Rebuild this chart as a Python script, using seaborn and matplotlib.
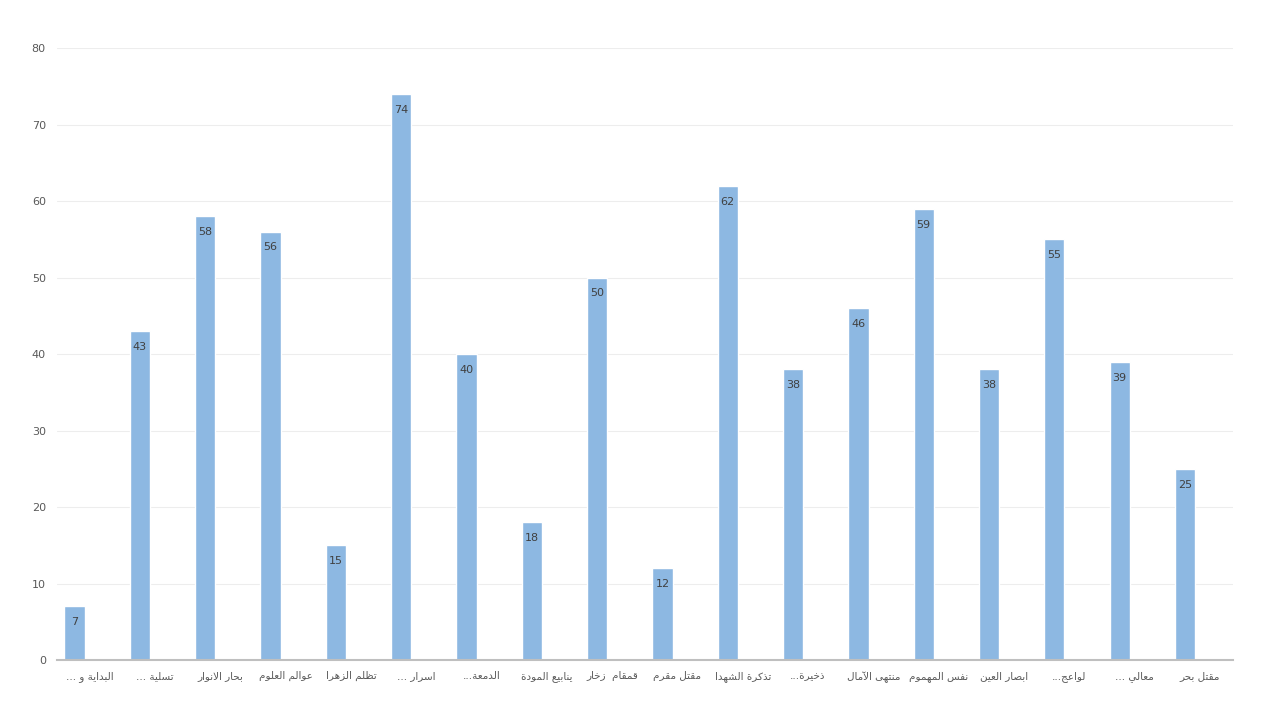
import matplotlib
matplotlib.use("Agg")
import matplotlib.pyplot as plt
import seaborn as sns

# عناوين الكتب (كما في المخطط) وعدد المرات
labels = [
    "البداية و ...", "تسلية ...", "بحار الانوار", "عوالم العلوم", "تظلم الزهرا",
    "اسرار ...", "الدمعة...", "ينابيع المودة", "قمقام  زخار", "مقتل مقرم",
    "تذكرة الشهدا", "ذخيرة...", "منتهى الآمال", "نفس المهموم", "ابصار العين",
    "لواعج...", "معالي ...", "مقتل بحر",
]
values = [7, 43, 58, 56, 15, 74, 40, 18, 50, 12, 62, 38, 46, 59, 38, 55, 39, 25]
yticks = [0, 10, 20, 30, 40, 50, 60, 70, 80]

# matplotlib does no Arabic shaping, so map letters to presentation forms
# isolated code point; dual-joining letters have 4 forms, others 2
ISO = {
    "ا": (0xFE8D, False), "أ": (0xFE83, False), "آ": (0xFE81, False),
    "ب": (0xFE8F, True), "ة": (0xFE93, False), "ت": (0xFE95, True),
    "ج": (0xFE9D, True), "ح": (0xFEA1, True), "خ": (0xFEA5, True),
    "د": (0xFEA9, False), "ذ": (0xFEAB, False), "ر": (0xFEAD, False),
    "ز": (0xFEAF, False), "س": (0xFEB1, True), "ش": (0xFEB5, True),
    "ص": (0xFEB9, True), "ظ": (0xFEC5, True), "ع": (0xFEC9, True),
    "ف": (0xFED1, True), "ق": (0xFED5, True), "ك": (0xFED9, True),
    "ل": (0xFEDD, True), "م": (0xFEE1, True), "ن": (0xFEE5, True),
    "ه": (0xFEE9, True), "و": (0xFEED, False), "ى": (0xFEEF, False),
    "ي": (0xFEF1, True),
}
LAM_ALEF = {"ا": 0xFEFB, "أ": 0xFEF7, "آ": 0xFEF5}


def shape(text):
    chars = list(text)
    # lam + alef ligatures
    merged = []
    i = 0
    while i < len(chars):
        if chars[i] == "ل" and i + 1 < len(chars) and chars[i + 1] in LAM_ALEF:
            merged.append(("LA", chars[i + 1]))
            i += 2
        else:
            merged.append(("C", chars[i]))
            i += 1

    def joins_next(tok):
        kind, c = tok
        return kind == "C" and c in ISO and ISO[c][1]

    def joins_prev(tok):
        kind, c = tok
        return kind == "LA" or c in ISO

    out = []
    for k, tok in enumerate(merged):
        prev = merged[k - 1] if k > 0 else None
        nxt = merged[k + 1] if k + 1 < len(merged) else None
        left = prev is not None and joins_next(prev) and joins_prev(tok)
        kind, c = tok
        if kind == "LA":
            out.append(chr(LAM_ALEF[c] + (1 if left else 0)))
            continue
        if c not in ISO:
            out.append(c)
            continue
        base, dual = ISO[c]
        right = dual and nxt is not None and joins_prev(nxt)
        if left and right:
            out.append(chr(base + 3))
        elif left:
            out.append(chr(base + 1))
        elif right:
            out.append(chr(base + 2))
        else:
            out.append(chr(base))
    return "".join(out)[::-1]


shown = [shape(t) for t in labels]

sns.set_style("white")
plt.rcParams["font.family"] = ["DejaVu Sans"]

fig = plt.figure(figsize=(12.8, 7.2), dpi=100)
ax = fig.add_axes([0.0445, 0.0833, 0.9185, 0.85])

sns.barplot(x=shown, y=values, color="#8DB8E2", width=0.31, saturation=1, ax=ax)

# bars sit left of the category centre, as in a clustered column chart
for p in ax.patches:
    p.set_x(p.get_x() - 0.23)

ax.bar_label(ax.containers[0], padding=-15, fontsize=8, color="#404040")

ax.set_ylim(0, 80)
ax.set_yticks(yticks)
ax.set_xlim(-0.5, len(values) - 0.5)
ax.yaxis.grid(True, color="#EDEDED", linewidth=0.8)
ax.set_axisbelow(True)
for s in ["top", "right", "left"]:
    ax.spines[s].set_visible(False)
ax.spines["bottom"].set_color("#BFBFBF")
ax.spines["bottom"].set_linewidth(1.5)
ax.tick_params(axis="both", length=0, labelsize=8, colors="#595959", pad=8)
ax.tick_params(axis="x", labelsize=7.5)
ax.set_xlabel("")
ax.set_ylabel("")

fig.savefig("out.png", dpi=100)
